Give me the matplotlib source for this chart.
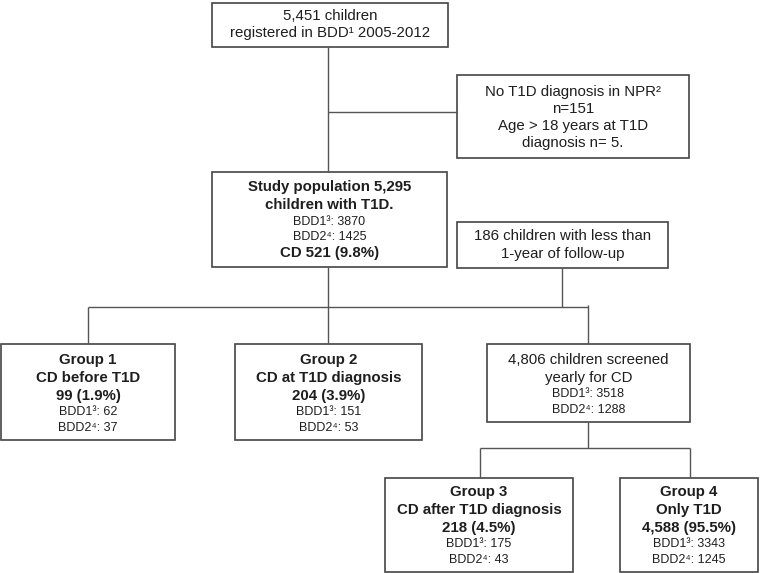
import matplotlib.pyplot as plt
from matplotlib.patches import Rectangle

plt.rcParams['font.family'] = ['Liberation Sans', 'DejaVu Sans']

BIG = 10.8
SMALL = 9.0

# box texts: (line, size, bold)
top_lines = [("5,451 children", BIG, False), ("registered in BDD¹ 2005-2012", BIG, False)]
excl_lines = [("No T1D diagnosis in NPR²", BIG, False), ("n=151", BIG, False),
              ("Age > 18 years at T1D", BIG, False), ("diagnosis n= 5.", BIG, False)]
study_lines = [("Study population 5,295", BIG, True), ("children with T1D.", BIG, True),
               ("BDD1³: 3870", SMALL, False), ("BDD2⁴: 1425", SMALL, False), ("CD 521 (9.8%)", BIG, True)]
follow_lines = [("186 children with less than", BIG, False), ("1-year of follow-up", BIG, False)]
g1_lines = [("Group 1", BIG, True), ("CD before T1D", BIG, True), ("99 (1.9%)", BIG, True),
            ("BDD1³: 62", SMALL, False), ("BDD2⁴: 37", SMALL, False)]
g2_lines = [("Group 2", BIG, True), ("CD at T1D diagnosis", BIG, True), ("204 (3.9%)", BIG, True),
            ("BDD1³: 151", SMALL, False), ("BDD2⁴: 53", SMALL, False)]
screen_lines = [("4,806 children screened", BIG, False), ("yearly for CD", BIG, False),
                ("BDD1³: 3518", SMALL, False), ("BDD2⁴: 1288", SMALL, False)]
g3_lines = [("Group 3", BIG, True), ("CD after T1D diagnosis", BIG, True), ("218 (4.5%)", BIG, True),
            ("BDD1³: 175", SMALL, False), ("BDD2⁴: 43", SMALL, False)]
g4_lines = [("Group 4", BIG, True), ("Only T1D", BIG, True), ("4,588 (95.5%)", BIG, True),
            ("BDD1³: 3343", SMALL, False), ("BDD2⁴: 1245", SMALL, False)]

fig = plt.figure(figsize=(7.6, 5.73), dpi=100)
ax = fig.add_axes([0, 0, 1, 1])
ax.set_xlim(0, 760)
ax.set_ylim(573, 0)
ax.axis('off')

edge = '#444444'
txt = '#1e1e1e'


def box(x0, y0, x1, y1, lines, ys):
    ax.add_patch(Rectangle((x0, y0), x1 - x0, y1 - y0, fill=False, edgecolor=edge, lw=1.2))
    cx = (x0 + x1) / 2
    for (s, size, bold), y in zip(lines, ys):
        ax.text(cx, y, s, ha='center', va='center', fontsize=size, color=txt,
                fontweight='bold' if bold else 'normal')


def line(xs, ys):
    ax.plot(xs, ys, color='#555555', lw=1.0, solid_capstyle='butt')


box(212, 3, 448, 47, top_lines, [16, 33])
box(457, 75, 689, 158, excl_lines, [92, 109, 126, 143])
box(212, 172, 447, 267, study_lines, [187, 205, 222, 237, 253])
box(457, 222, 668, 268, follow_lines, [236, 254])
grp_y = [360, 378, 396, 412, 428]
box(1, 344, 175, 440, g1_lines, grp_y)
box(235, 344, 422, 440, g2_lines, grp_y)
box(487, 344, 690, 422, screen_lines, [360, 378, 394, 410])
low_y = [492, 510, 528, 544, 560]
box(385, 478, 573, 572, g3_lines, low_y)
box(620, 478, 758, 572, g4_lines, low_y)

# connectors
line([328, 328], [47, 172])
line([328, 457], [112, 112])
line([328, 328], [267, 344])
line([88, 588], [307, 307])
line([88, 88], [307, 344])
line([562, 562], [268, 307])
line([588, 588], [305, 344])
line([588, 588], [422, 448])
line([480, 690], [448, 448])
line([480, 480], [448, 478])
line([690, 690], [448, 478])

plt.savefig('out.png', dpi=100)
